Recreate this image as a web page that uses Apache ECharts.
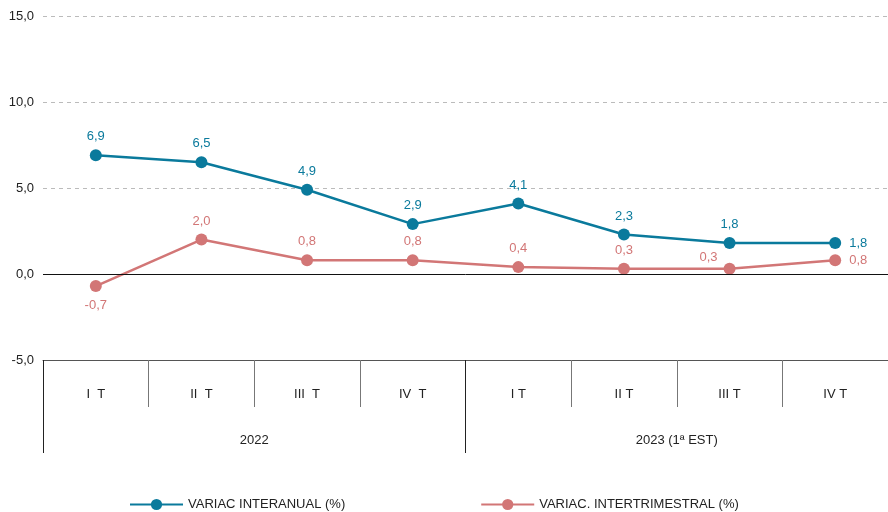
<!DOCTYPE html>
<html>
<head>
<meta charset="utf-8">
<script src="https://cdn.jsdelivr.net/npm/echarts@6/dist/echarts.min.js"></script>
<style>
  html, body { margin: 0; padding: 0; background: #fff; }
  #chart { width: 888px; height: 512px; }
</style>
</head>
<body>
<div id="chart"></div>
<script>
// trimestres y años
const quarters = ['I  T', 'II  T', 'III  T', 'IV  T', 'I T', 'II T', 'III T', 'IV T']
const years = ['2022', '2023 (1ª EST)']
const interanual = [6.9, 6.5, 4.9, 2.9, 4.1, 2.3, 1.8, 1.8]
const intertrimestral = [-0.7, 2.0, 0.8, 0.8, 0.4, 0.3, 0.3, 0.8]
const names = ['VARIAC INTERANUAL (%)', 'VARIAC. INTERTRIMESTRAL (%)']

const teal = '#0a7a9c'
const pink = '#d27676'
const fmt = v => v.toFixed(1).replace('.', ',')

// el último punto lleva la etiqueta a la derecha, el negativo abajo
const tealData = interanual.map((v, i) => i === interanual.length - 1
  ? { value: v, label: { position: 'right', distance: 8 } } : v)
const pinkData = intertrimestral.map((v, i) => {
  if (i === intertrimestral.length - 1) return { value: v, label: { position: 'right', distance: 8 } }
  if (v < 0) return { value: v, label: { position: 'bottom', distance: 7 } }
  if (i === 6) return { value: v, label: { offset: [-21, 7] } }  // evita chocar con 1,8
  return v
})

const chart = echarts.init(document.getElementById('chart'))
const option = {
  animation: false,
  textStyle: { fontFamily: 'Liberation Sans, Arial, sans-serif' },
  grid: { left: 43, right: -3, top: 16, bottom: 152 },
  legend: {
    left: 124,
    top: 493,
    itemGap: 135,
    itemWidth: 53,
    itemHeight: 14,
    textStyle: { fontSize: 13, color: '#222' },
    data: names
  },
  xAxis: [
    {
      type: 'category',
      data: quarters,
      boundaryGap: true,
      axisLine: { show: true, onZero: false, lineStyle: { color: '#555', width: 1 } },
      axisTick: { show: true, length: 47, lineStyle: { color: '#777' } },
      axisLabel: { margin: 28, fontSize: 13, color: '#222' }
    },
    {
      type: 'category',
      position: 'bottom',
      data: years,
      boundaryGap: true,
      axisLine: { show: false, onZero: false },
      axisTick: { show: true, length: 93, lineStyle: { color: '#222' } },
      axisLabel: { margin: 74, fontSize: 13, color: '#222' }
    }
  ],
  yAxis: {
    type: 'value',
    min: -5,
    max: 15,
    interval: 5,
    axisLine: { show: false },
    axisTick: { show: false },
    axisLabel: { margin: 9, fontSize: 13, color: '#222', formatter: fmt },
    splitLine: { lineStyle: { color: '#bbb', type: [4, 4] } }
  },
  series: [
    {
      name: names[0],
      type: 'line',
      data: tealData,
      color: teal,
      symbol: 'circle',
      symbolSize: 12,
      lineStyle: { width: 2.5 },
      label: { show: true, position: 'top', distance: 6, fontSize: 13, color: teal, formatter: p => fmt(p.value) },
      markLine: {
        silent: true,
        symbol: 'none',
        label: { show: false },
        lineStyle: { color: '#111', type: 'solid', width: 1 },
        data: [{ yAxis: 0 }]
      },
      z: 3
    },
    {
      name: names[1],
      type: 'line',
      data: pinkData,
      color: pink,
      symbol: 'circle',
      symbolSize: 12,
      lineStyle: { width: 2.5 },
      label: { show: true, position: 'top', distance: 6, fontSize: 13, color: pink, formatter: p => fmt(p.value) },
      z: 3
    }
  ]
}
option && chart.setOption(option)
</script>
</body>
</html>
